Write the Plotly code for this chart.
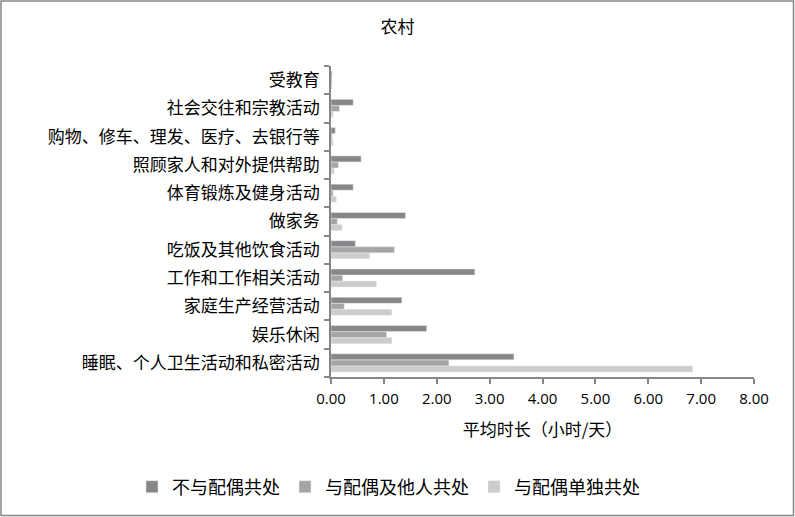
import plotly.graph_objects as go

# categories, bottom to top as drawn
categories = ['睡眠、个人卫生活动和私密活动', '娱乐休闲', '家庭生产经营活动', '工作和工作相关活动',
              '吃饭及其他饮食活动', '做家务', '体育锻炼及健身活动', '照顾家人和对外提供帮助',
              '购物、修车、理发、医疗、去银行等', '社会交往和宗教活动', '受教育']

not_with_spouse = [3.46, 1.81, 1.34, 2.72, 0.46, 1.41, 0.42, 0.57, 0.08, 0.42, 0.02]
with_spouse_and_others = [2.23, 1.05, 0.25, 0.22, 1.20, 0.12, 0.04, 0.14, 0.02, 0.16, 0.02]
with_spouse_only = [6.84, 1.15, 1.15, 0.86, 0.73, 0.21, 0.10, 0.06, 0.04, 0.04, 0.02]

x_ticks = [0, 1, 2, 3, 4, 5, 6, 7, 8]

W, H = 795, 517
L, R, T, B = 331, 41, 66, 140
cjk = "Noto Sans CJK SC"
grey = "#868686"

fig = go.Figure()
# added bottom-up so the dark bar sits on top in each group
fig.add_trace(go.Bar(y=categories, x=with_spouse_only, orientation='h',
                     name='与配偶单独共处', marker_color='#cccccc'))
fig.add_trace(go.Bar(y=categories, x=with_spouse_and_others, orientation='h',
                     name='与配偶及他人共处', marker_color='#a5a5a5'))
fig.add_trace(go.Bar(y=categories, x=not_with_spouse, orientation='h',
                     name='不与配偶共处', marker_color='#878787'))

pw, ph = W - L - R, H - T - B
# outer chart border
fig.add_shape(type="rect", xref="paper", yref="paper",
              x0=(1 - L) / pw, x1=(W - 1.5 - L) / pw,
              y0=(ph + T - (H - 1.5)) / ph, y1=(ph + T - 1) / ph,
              line=dict(color=grey, width=1.5))

fig.update_layout(
    width=W, height=H,
    margin=dict(l=L, r=R, t=T, b=B),
    paper_bgcolor="white", plot_bgcolor="white",
    barmode="group", bargap=0.36, bargroupgap=0,
    font=dict(family=cjk, size=17, color="#000000"),
    title=dict(text="农村", x=0.5, xanchor="center", y=1 - 27 / H, yanchor="middle",
               font=dict(family=cjk, size=17)),
    legend=dict(orientation="h", traceorder="reversed",
                x=(132 - L) / pw, xanchor="left",
                y=(T + ph - 487) / ph, yanchor="middle",
                bgcolor="rgba(0,0,0,0)",
                font=dict(family=cjk, size=18), itemwidth=30),
    showlegend=True,
)

fig.update_xaxes(range=[0, 8], tickvals=x_ticks, tickformat=".2f",
                 showgrid=False, zeroline=False, automargin=False,
                 showline=True, linecolor=grey, linewidth=1.5,
                 ticks="outside", ticklen=5, tickcolor=grey, tickwidth=1.5,
                 ticklabelstandoff=2,
                 tickfont=dict(family="Open Sans", size=15),
                 title=dict(text="平均时长（小时/天）", font=dict(family=cjk, size=17), standoff=17))

fig.update_yaxes(showgrid=False, automargin=False,
                 showline=True, linecolor=grey, linewidth=1.5,
                 ticks="outside", ticklen=5, tickcolor=grey, tickwidth=1.5,
                 tickson="boundaries", ticklabelstandoff=6,
                 tickfont=dict(family=cjk, size=17))

fig.write_html("out.html", config={"displayModeBar": False},
               post_script="document.body.style.margin='0';")
